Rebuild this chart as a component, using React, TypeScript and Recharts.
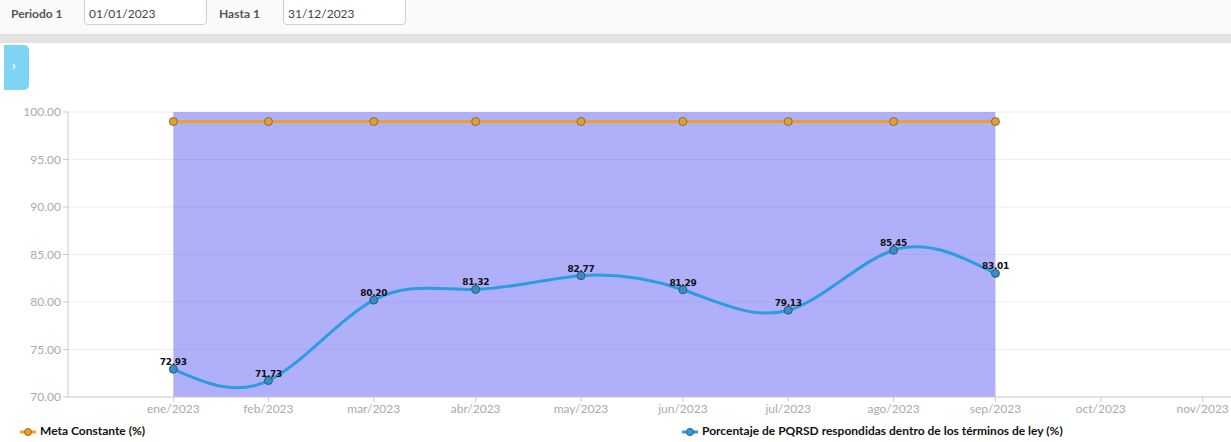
import { LineChart, Line, XAxis, YAxis, CartesianGrid, ReferenceArea, LabelList } from 'recharts';

// eje x: escala de tiempo real, cada punto cae el último día del mes
const monthLabels = ['ene/2023', 'feb/2023', 'mar/2023', 'abr/2023', 'may/2023', 'jun/2023', 'jul/2023', 'ago/2023', 'sep/2023', 'oct/2023', 'nov/2023'];
const monthEnds = ['2023-01-31', '2023-02-28', '2023-03-31', '2023-04-30', '2023-05-31', '2023-06-30', '2023-07-31', '2023-08-31', '2023-09-30', '2023-10-31', '2023-11-30'];
const pointDates = ['2023-01-31', '2023-02-28', '2023-03-31', '2023-04-30', '2023-05-31', '2023-06-30', '2023-07-31', '2023-08-31', '2023-09-30'];

const metaValues = [99, 99, 99, 99, 99, 99, 99, 99, 99];
const pqrsdValues = [72.93, 71.73, 80.2, 81.32, 82.77, 81.29, 79.13, 85.45, 83.01];
const yTicks = [70, 75, 80, 85, 90, 95, 100];

const xDomainStart = '2022-12-31';
const xDomainEnd = '2023-12-31';
const bandStart = '2023-01-31';
const bandEnd = '2023-09-30';

const data = pointDates.map((d, i) => ({ t: Date.parse(d), meta: metaValues[i], pqrsd: pqrsdValues[i] }));
const xTicks = monthEnds.map((d) => Date.parse(d));

const fmtMonth = (v: number) => {
    const i = xTicks.indexOf(v);
    return i >= 0 ? monthLabels[i] : '';
};

const LegendIcon = ({ color, dot }: { color: string; dot: string }) => (
    <svg width={16} height={10} style={{ verticalAlign: 'middle', marginRight: 4 }}>
        <line x1={0} y1={5} x2={16} y2={5} stroke={color} strokeWidth={3} />
        <circle cx={8} cy={5} r={3.5} fill={color} stroke={dot} strokeWidth={1} />
    </svg>
);

const headerLabel: React.CSSProperties = { position: 'absolute', top: 6, fontFamily: 'Lato', fontWeight: 'bold', fontSize: 12, color: '#555' };
const headerInput: React.CSSProperties = {
    position: 'absolute', top: -4, height: 29, width: 123, boxSizing: 'border-box', border: '1px solid #d0d0d0',
    borderRadius: 4, background: '#fff', fontFamily: 'Lato', fontSize: 12, color: '#444', padding: '9px 0 0 4px',
};
const legendText: React.CSSProperties = { position: 'absolute', top: 423, fontFamily: 'Lato', fontWeight: 'bold', fontSize: 12, color: '#111', whiteSpace: 'nowrap' };

export default function App() {
    return (
        <div style={{ position: 'fixed', left: 0, top: 0, width: 1231, height: 442, overflow: 'hidden', background: '#fff' }}>
            {/* barra de filtros */}
            <div style={{ position: 'absolute', left: 0, top: 0, width: 1231, height: 34, background: '#fafafa', borderBottom: '1px solid #dcdcdc' }}>
                <div style={{ ...headerLabel, left: 11 }}>Periodo 1</div>
                <div style={{ ...headerInput, left: 84 }}>01/01/2023</div>
                <div style={{ ...headerLabel, left: 219 }}>Hasta 1</div>
                <div style={{ ...headerInput, left: 283 }}>31/12/2023</div>
            </div>
            <div style={{ position: 'absolute', left: 0, top: 35, width: 1231, height: 8, background: '#e3e3e3' }} />
            <div style={{ position: 'absolute', left: 4, top: 45, width: 25, height: 45, background: '#7fd4f4', borderRadius: '0 5px 5px 0', color: '#fff', fontFamily: 'Lato', fontSize: 13, fontWeight: 'bold', lineHeight: '40px', boxSizing: 'border-box', paddingLeft: 8 }}>
                ›
            </div>

            <div style={{ position: 'absolute', left: 0, top: 0 }}>
                <LineChart width={1315} height={442} data={data} margin={{ top: 112, right: 7, left: 8, bottom: 15 }}>
                    <CartesianGrid horizontal vertical={false} stroke="#eeeeee" />
                    <ReferenceArea
                        x1={Date.parse(bandStart)}
                        x2={Date.parse(bandEnd)}
                        y1={70}
                        y2={100}
                        fill="#6262f5"
                        fillOpacity={0.5}
                        stroke="none"
                        ifOverflow="visible"
                    />
                    <XAxis
                        dataKey="t"
                        type="number"
                        domain={[Date.parse(xDomainStart), Date.parse(xDomainEnd)]}
                        ticks={xTicks}
                        tickFormatter={fmtMonth}
                        height={30}
                        tickSize={5}
                        tickMargin={2}
                        stroke="#cccccc"
                        tick={{ fill: '#aaaaaa', fontSize: 12, fontFamily: 'Lato' }}
                        interval={0}
                    />
                    <YAxis
                        domain={[70, 100]}
                        ticks={yTicks}
                        width={60}
                        tickSize={5}
                        tickMargin={2}
                        stroke="#cccccc"
                        tick={{ fill: '#aaaaaa', fontSize: 12, fontFamily: 'Lato' }}
                        tickFormatter={(v: number) => v.toFixed(2)}
                    />
                    <Line
                        dataKey="meta"
                        stroke="#f0a020"
                        strokeWidth={3}
                        dot={{ r: 4, fill: '#e0a038', stroke: '#8a6a38', strokeWidth: 1 }}
                        isAnimationActive={false}
                    />
                    <Line
                        dataKey="pqrsd"
                        type="natural"
                        stroke="#2d9be2"
                        strokeWidth={3}
                        dot={{ r: 4, fill: '#3a8cc4', stroke: '#2a5a7c', strokeWidth: 1 }}
                        isAnimationActive={false}
                    >
                        <LabelList
                            dataKey="pqrsd"
                            position="top"
                            offset={4}
                            formatter={(v: any) => Number(v).toFixed(2)}
                            style={{ fill: '#111', fontSize: 9, fontWeight: 'bold', fontFamily: 'DejaVu Sans', letterSpacing: -0.3 }}
                        />
                    </Line>
                </LineChart>
            </div>

            {/* leyenda */}
            <div style={{ ...legendText, left: 20 }}>
                <LegendIcon color="#f0a020" dot="#8a6a38" />
                Meta Constante (%)
            </div>
            <div style={{ ...legendText, left: 682 }}>
                <LegendIcon color="#2d9be2" dot="#2a5a7c" />
                Porcentaje de PQRSD respondidas dentro de los términos de ley (%)
            </div>
        </div>
    );
}
